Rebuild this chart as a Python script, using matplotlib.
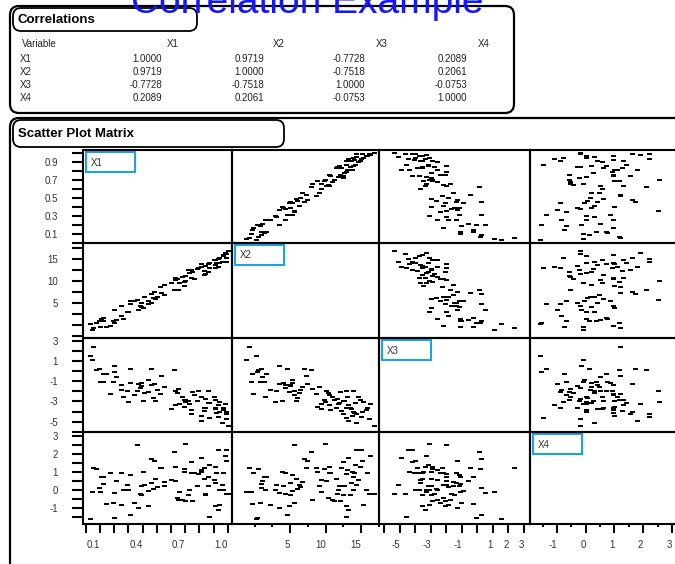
import matplotlib
matplotlib.use("Agg")
import matplotlib.pyplot as plt
from matplotlib.patches import FancyBboxPatch, Rectangle

plt.rcParams["font.family"] = ["Liberation Sans", "DejaVu Sans"]

# ---- data ----
var_names = ["X1", "X2", "X3", "X4"]
corr_text = [
    ["1.0000", "0.9719", "-0.7728", "0.2089"],
    ["0.9719", "1.0000", "-0.7518", "0.2061"],
    ["-0.7728", "-0.7518", "1.0000", "-0.0753"],
    ["0.2089", "0.2061", "-0.0753", "1.0000"],
]

x1 = [0.05, 0.03, 0.04, 0.07, 0.14, 0.12, 0.10, 0.09, 0.20, 0.11,
      0.17, 0.19, 0.12, 0.26, 0.20, 0.21, 0.25, 0.25, 0.39, 0.29,
      0.31, 0.31, 0.30, 0.46, 0.38, 0.36, 0.37, 0.49, 0.39, 0.41,
      0.44, 0.40, 0.55, 0.34, 0.46, 0.50, 0.44, 0.48, 0.47, 0.62,
      0.53, 0.52, 0.60, 0.65, 0.64, 0.69, 0.55, 0.76, 0.66, 0.63,
      0.69, 0.68, 0.70, 0.74, 0.70, 0.63, 0.75, 0.83, 0.78, 0.73,
      0.81, 0.83, 0.79, 0.86, 0.84, 0.74, 0.86, 0.87, 0.81, 0.84,
      0.87, 0.91, 0.72, 0.92, 0.93, 0.90, 0.94, 0.91, 0.91, 0.81,
      0.94, 0.96, 0.97, 0.93, 0.98, 0.99, 1.00, 0.97, 0.99, 0.99]
x2 = [-0.8, 0.2, -1.2, 0.5, -0.4, 1.6, -0.5, 0.9, 0.3, 1.3,
      -0.3, 0.8, 0.9, 1.4, 3.4, 1.0, 4.2, 2.1, 4.0, 3.0,
      5.3, 4.6, 2.8, 5.0, 4.3, 5.6, 3.4, 5.8, 4.9, 6.2,
      5.3, 3.9, 6.7, 5.5, 7.0, 6.4, 4.8, 7.4, 6.0, 7.9,
      7.2, 8.6, 9.4, 8.0, 10.3, 9.7, 9.0, 10.4, 9.4, 10.1,
      8.8, 10.9, 9.9, 10.6, 11.1, 10.5, 12.0, 11.4, 12.6, 11.7,
      13.0, 12.2, 12.9, 11.9, 13.4, 12.5, 13.8, 12.8, 13.2, 11.6,
      14.1, 13.6, 12.4, 14.0, 13.1, 14.6, 13.9, 12.9, 14.8, 13.7,
      15.2, 14.3, 15.6, 14.9, 16.3, 15.1, 16.8, 15.8, 14.2, 16.1]
x3 = [2.35, 1.50, 1.10, 0.15, -0.30, -0.30, -1.10, 0.20, -0.10, -1.10,
      -2.25, -1.05, -1.10, -2.60, 0.50, -0.60, -1.40, -1.90, -1.20, -2.00,
      -1.20, 0.20, -3.10, -1.40, -1.70, -2.00, -1.30, -3.00, -1.50, -2.20,
      -0.90, -3.00, -1.60, -2.40, 0.20, -1.90, -2.10, -1.30, -2.70, 0.10,
      -0.50, -2.30, -3.70, -1.80, -2.20, -2.90, -1.60, -2.40, -3.30, -2.00,
      -3.50, -2.60, -3.10, -3.80, -2.90, -3.40, -2.10, -3.60, -3.00, -3.30,
      -2.60, -3.90, -2.00, -3.20, -3.60, -4.20, -2.00, -4.60, -4.90, -2.80,
      -3.20, -3.70, -3.00, -4.10, -3.40, -2.60, -4.00, -3.60, -2.90, -4.40,
      -3.10, -5.10, -3.80, -4.50, -3.30, -4.00, -5.40, -3.60, -4.20, -4.70]
x4 = [1.20, -1.60, -0.10, 1.15, -0.75, 0.70, -0.10, 0.10, -1.55, 0.75,
      0.95, -0.70, 0.35, 0.00, -0.15, 0.50, 0.95, -0.85, 0.20, 0.30,
      0.85, -1.40, 0.00, 0.40, -0.20, 2.50, -1.00, 0.60, -0.30, 0.30,
      -0.05, 1.00, 0.45, -0.70, 1.70, 0.15, -0.90, 1.60, 0.05, 2.10,
      1.20, 1.20, 0.55, -0.55, -0.45, 1.15, 0.20, 0.95, -0.10, 0.50,
      1.00, -0.55, 2.55, 0.95, -0.60, 1.30, -0.60, 0.60, 0.25, 0.00,
      1.10, 1.25, 0.90, 0.20, -0.30, 1.55, 0.70, -1.50, 1.80, -0.20,
      1.40, 0.40, -0.25, 0.95, -1.10, 0.55, 0.00, -0.90, 1.30, 1.00,
      -0.80, 0.30, 0.00, 2.20, 1.90, 1.60, -0.20, 0.95, 2.20, -0.20]
data = [x1, x2, x3, x4]

# axis setup for each variable
x_lims = [(-0.02, 1.03), (-3.2, 17.5), (-6.35, 3.39), (-1.94, 3.21)]
y_lims = [(0.0, 1.033), (-3.0, 18.55), (-6.02, 3.27), (-1.88, 3.22)]
y_ticks = [[0.1 * k for k in range(0, 11)],
           [-2.5, 0, 2.5, 5, 7.5, 10, 12.5, 15, 17.5],
           [-6, -5, -4, -3, -2, -1, 0, 1, 2, 3],
           [-1.5, -1, -0.5, 0, 0.5, 1, 1.5, 2, 2.5, 3]]
y_labels = [["", "0.1", "", "0.3", "", "0.5", "", "0.7", "", "0.9", ""],
            ["", "", "", "5", "", "10", "", "15", ""],
            ["", "-5", "", "-3", "", "-1", "", "1", "", "3"],
            ["", "-1", "", "0", "", "1", "", "2", "", "3"]]
x_ticks = [[0.1 * k for k in range(0, 11)],
           [5, 10, 15],
           [-6, -5, -4, -3, -2, -1, 0, 1, 2, 3],
           [-1, 0, 1, 2, 3]]
x_labels = [["", "0.1", "", "", "0.4", "", "", "0.7", "", "", "1.0"],
            ["5", "10", "15"],
            ["", "-5", "", "-3", "", "-1", "", "1", "2", "3"],
            ["-1", "0", "1", "2", "3"]]
x_minor = [[], [0, 2.5, 7.5, 12.5, 17.5], [], [-1.5, -0.5, 0.5, 1.5, 2.5]]

W, H = 675, 564
fig = plt.figure(figsize=(W / 100, H / 100), dpi=100)

# background layer in pixel coordinates for boxes and texts
bg = fig.add_axes([0, 0, 1, 1])
bg.set_xlim(0, W)
bg.set_ylim(H, 0)
bg.axis("off")


def rbox(x0, y0, x1_, y1_, r, lw=1.6):
    bg.add_patch(FancyBboxPatch((x0, y0), x1_ - x0, y1_ - y0,
                                boxstyle="round,pad=0,rounding_size=%g" % r,
                                fc="none", ec="black", lw=lw))


bg.text(307, 13, "Correlation Example", color="#1515ff", fontsize=28,
        ha="center", va="baseline")

# correlations block
rbox(10, 6, 514, 113, 9)
rbox(13, 8, 197, 31, 8, lw=1.3)
bg.text(18, 20, "Correlations", fontsize=9.5, fontweight="bold", va="center")

txt_col = "#222222"
bg.text(22, 44, "Variable", fontsize=7, va="center", color=txt_col)
for k, nm in enumerate(var_names):
    bg.text([179, 285, 388, 490][k], 44, nm, fontsize=7, ha="right",
            va="center", color=txt_col)
row_y = [59.5, 72.3, 84.8, 98]
for r, nm in enumerate(var_names):
    bg.text(20, row_y[r], nm, fontsize=7, va="center", color=txt_col)
    for c in range(4):
        bg.text([162, 264, 365, 467][c], row_y[r], corr_text[r][c],
                fontsize=7, ha="right", va="center", color=txt_col)

# scatter plot matrix block
rbox(10, 118, 700, 580, 9)
rbox(13, 120, 284, 147, 8, lw=1.3)
bg.text(18, 134, "Scatter Plot Matrix", fontsize=9.5, fontweight="bold",
        va="center")

col_edges = [83, 232, 379, 530, 678]
row_edges = [150, 243, 338, 432, 524]

for i in range(4):
    for j in range(4):
        left = col_edges[j] / W
        bottom = 1 - row_edges[i + 1] / H
        w = (col_edges[j + 1] - col_edges[j]) / W
        h = (row_edges[i + 1] - row_edges[i]) / H
        ax = fig.add_axes([left, bottom, w, h])
        ax.set_facecolor("none")
        for sp in ax.spines.values():
            sp.set_linewidth(1.5)
        ax.set_xlim(*x_lims[j])
        ax.set_ylim(*y_lims[i])
        if i != j:
            ax.plot(data[j], data[i], ls="none", color="black",
                    marker=[(-1, -0.5), (1, -0.5), (1, 0.5), (-1, 0.5)],
                    markersize=3.6, mew=0)
        else:
            bg.add_patch(Rectangle((col_edges[j] + 3, row_edges[i] + 2), 49, 20,
                                   fc="none", ec="#1ca4de", lw=1.5))
            bg.text(col_edges[j] + 8, row_edges[i] + 12.5, var_names[i],
                    fontsize=7, va="center", color="#333333")

        if j == 0:
            ax.set_yticks(y_ticks[i])
            ax.set_yticklabels(y_labels[i])
            ax.tick_params(axis="y", length=8, width=1.5, pad=10,
                           labelsize=7, labelcolor="#333333")
        else:
            ax.set_yticks([])
        if i == 3:
            ax.set_xticks(x_ticks[j])
            ax.set_xticklabels(x_labels[j], ha="right")
            ax.set_xticks(x_minor[j], minor=True)
            ax.tick_params(axis="x", which="major", length=6.5, width=1.5,
                           pad=5, labelsize=7, labelcolor="#333333")
            ax.tick_params(axis="x", which="minor", length=2, width=1.5)
        else:
            ax.set_xticks([])

fig.savefig("out.png", dpi=100)
